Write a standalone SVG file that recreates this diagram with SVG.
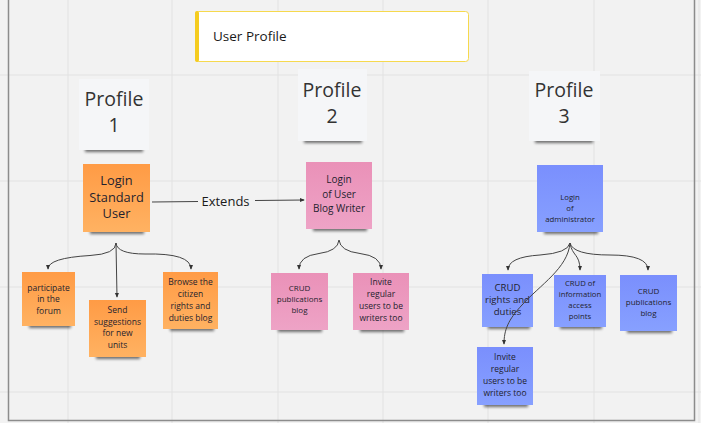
<svg xmlns="http://www.w3.org/2000/svg" width="701" height="423" viewBox="0 0 701 423">
<defs>
<filter id="blur" x="-20%" y="-100%" width="140%" height="300%"><feGaussianBlur stdDeviation="1.8"/></filter>
<marker id="arr" viewBox="0 0 6 6" refX="5" refY="3" markerWidth="5" markerHeight="5" orient="auto" markerUnits="userSpaceOnUse"><path d="M0,0.5 L6,3 L0,5.5 z" fill="#333"/></marker>
<linearGradient id="gOrange" x1="0" y1="0" x2="0" y2="1"><stop offset="0" stop-color="#ff9b45"/><stop offset="1" stop-color="#ffb262"/></linearGradient>
<linearGradient id="gPink" x1="0" y1="0" x2="0" y2="1"><stop offset="0" stop-color="#ea91b8"/><stop offset="1" stop-color="#eea3c6"/></linearGradient>
<linearGradient id="gBlue" x1="0" y1="0" x2="0" y2="1"><stop offset="0" stop-color="#7a8ffd"/><stop offset="1" stop-color="#87a0ff"/></linearGradient>
</defs>
<style>
text{font-family:"Open Sans","Noto Sans","Liberation Sans",sans-serif;text-anchor:middle;fill:#1f1f2e}
.grid{stroke:#e2e2e2;stroke-width:1}
.sh{fill:#000;opacity:.55;filter:url(#blur)}
.card{fill:#f5f6f8}
.or{fill:url(#gOrange)}
.pk{fill:url(#gPink)}
.bl{fill:url(#gBlue)}
.prof{font-size:19.5px;fill:#333}
.con{fill:none;stroke:#444;stroke-width:1}
.arr{marker-end:url(#arr)}
</style>
<rect width="701" height="423" fill="#f2f2f2"/>
<g id="grid">
<path class="grid" d="M68,0V423M172,0V423M278,0V423M383,0V423M488,0V423M594,0V423M699,0V423M0,75H701M0,181H701M0,287H701M0,392H701"/>
</g>
<g id="frame"><path d="M8.5,0V420.5H694.5V0" fill="none" stroke="#8c8c8c" stroke-width="1.5"/></g>

<g id="title">
<rect x="195.5" y="11.5" width="273" height="50" rx="3" fill="#fff" stroke="#f6d94e" stroke-width="1"/>
<rect x="195" y="11" width="4" height="51" rx="2" fill="#f5cc1f"/>
<text x="213" y="41" style="text-anchor:start;font-size:13.5px;fill:#1a1a1a">User Profile</text>
</g>

<g id="profile1">
<rect class="sh" x="85" y="145" width="58" height="7"/>
<rect class="card" x="79" y="79" width="70" height="71"/>
<text class="prof" x="114" y="106">Profile</text>
<text class="prof" x="114" y="132">1</text>
</g>
<g id="profile2">
<rect class="sh" x="304" y="136" width="58" height="7"/>
<rect class="card" x="298" y="69" width="69" height="72"/>
<text class="prof" x="332" y="97">Profile</text>
<text class="prof" x="332" y="123">2</text>
</g>
<g id="profile3">
<rect class="sh" x="535" y="136" width="58" height="7"/>
<rect class="card" x="529" y="71" width="71" height="70"/>
<text class="prof" x="564" y="97">Profile</text>
<text class="prof" x="564" y="123">3</text>
</g>

<g id="login-standard">
<rect class="sh" x="90" y="227" width="54" height="7"/>
<rect class="or" x="83" y="164" width="67" height="68"/>
<text x="116.5" y="185" style="font-size:12.8px">Login</text>
<text x="116.5" y="201.5" style="font-size:12.8px">Standard</text>
<text x="116.5" y="218" style="font-size:12.8px">User</text>
</g>
<g id="login-blog-writer">
<rect class="sh" x="313" y="224" width="54" height="7"/>
<rect class="pk" x="306" y="162" width="66" height="67"/>
<text x="339" y="183" style="font-size:10px">Login</text>
<text x="339" y="197.5" style="font-size:10px">of User</text>
<text x="339" y="212" style="font-size:10px">Blog Writer</text>
</g>
<g id="login-admin">
<rect class="sh" x="544" y="227" width="54" height="7"/>
<rect class="bl" x="537" y="165" width="66" height="67"/>
<text x="570" y="200" style="font-size:7.8px">Login</text>
<text x="570" y="210.5" style="font-size:7.8px">of</text>
<text x="570" y="221.5" style="font-size:7.8px">administrator</text>
</g>

<g id="participate">
<rect class="sh" x="29" y="321" width="42" height="7"/>
<rect class="or" x="22" y="272" width="53" height="54"/>
<g style="font-size:8.5px"><text x="48.5" y="290.5">participate</text><text x="48.5" y="302">in the</text><text x="48.5" y="313.5">forum</text></g>
</g>
<g id="send-suggestions">
<rect class="sh" x="96" y="352" width="44" height="7"/>
<rect class="or" x="89" y="300" width="57" height="57"/>
<g style="font-size:8.5px"><text x="117.5" y="312.5">Send</text><text x="117.5" y="324.5">suggestions</text><text x="117.5" y="336">for new</text><text x="117.5" y="348">units</text></g>
</g>
<g id="browse-blog">
<rect class="sh" x="170" y="324" width="44" height="7"/>
<rect class="or" x="163" y="272" width="55" height="57"/>
<g style="font-size:8.5px"><text x="190.5" y="285">Browse the</text><text x="190.5" y="297">citizen</text><text x="190.5" y="309">rights and</text><text x="190.5" y="321">duties blog</text></g>
</g>

<g id="pink-crud-blog">
<rect class="sh" x="278" y="325" width="44" height="7"/>
<rect class="pk" x="271" y="273" width="57" height="57"/>
<g style="font-size:8px"><text x="299.5" y="291">CRUD</text><text x="299.5" y="302">publications</text><text x="299.5" y="313">blog</text></g>
</g>
<g id="pink-invite">
<rect class="sh" x="360" y="325" width="44" height="7"/>
<rect class="pk" x="353" y="273" width="56" height="57"/>
<g style="font-size:8.5px"><text x="381" y="285">Invite</text><text x="381" y="297">regular</text><text x="381" y="309">users to be</text><text x="381" y="321">writers too</text></g>
</g>

<g id="blue-crud-rights">
<rect class="sh" x="488" y="322" width="42" height="7"/>
<rect class="bl" x="482" y="274" width="51" height="53"/>
<g style="font-size:9.6px"><text x="507.5" y="290.5">CRUD</text><text x="507.5" y="302.5">rights and</text><text x="507.5" y="314.5">duties</text></g>
</g>
<g id="blue-crud-info">
<rect class="sh" x="560" y="322" width="42" height="7"/>
<rect class="bl" x="554" y="275" width="52" height="52"/>
<g style="font-size:7.7px"><text x="580" y="286">CRUD of</text><text x="580" y="297">information</text><text x="580" y="308">access</text><text x="580" y="318.5">points</text></g>
</g>
<g id="blue-crud-blog">
<rect class="sh" x="627" y="326" width="45" height="7"/>
<rect class="bl" x="620" y="275" width="57" height="56"/>
<g style="font-size:8px"><text x="648.5" y="294">CRUD</text><text x="648.5" y="305">publications</text><text x="648.5" y="316">blog</text></g>
</g>
<g id="blue-invite">
<rect class="sh" x="484" y="400" width="44" height="7"/>
<rect class="bl" x="477" y="347" width="56" height="58"/>
<g style="font-size:8.5px"><text x="505" y="360">Invite</text><text x="505" y="372">regular</text><text x="505" y="384">users to be</text><text x="505" y="396">writers too</text></g>
</g>

<g id="connectors">
<path class="con" d="M152,202 L198,201.5"/>
<path class="con arr" d="M255,200.5 L304,200"/>
<text x="225.5" y="206" style="font-size:13px;fill:#1a1a1a">Extends</text>
<path class="con arr" d="M116,243 Q116,254 90,255.5 Q48,258 48,269"/>
<path class="con arr" d="M116,243 L117,297"/>
<path class="con arr" d="M116,243 Q117,254 145,254 Q191,253 191,269"/>
<path class="con arr" d="M339,240 Q338,251 319,253.5 Q299,256 299,269"/>
<path class="con arr" d="M339,240 Q340,251 360,253.5 Q381,256 381,269"/>
<path class="con arr" d="M570,243 Q568,253 540,255 Q508,257 508,270"/>
<path class="con arr" d="M570,243 C572,256 580,254 580,270"/>
<path class="con arr" d="M570,243 Q573,255 610,255 Q648,255 648,270"/>
<path class="con arr" d="M570,243 C568,268 540,285 522,305 C508,320 504,330 504,344"/>
</g>
</svg>
